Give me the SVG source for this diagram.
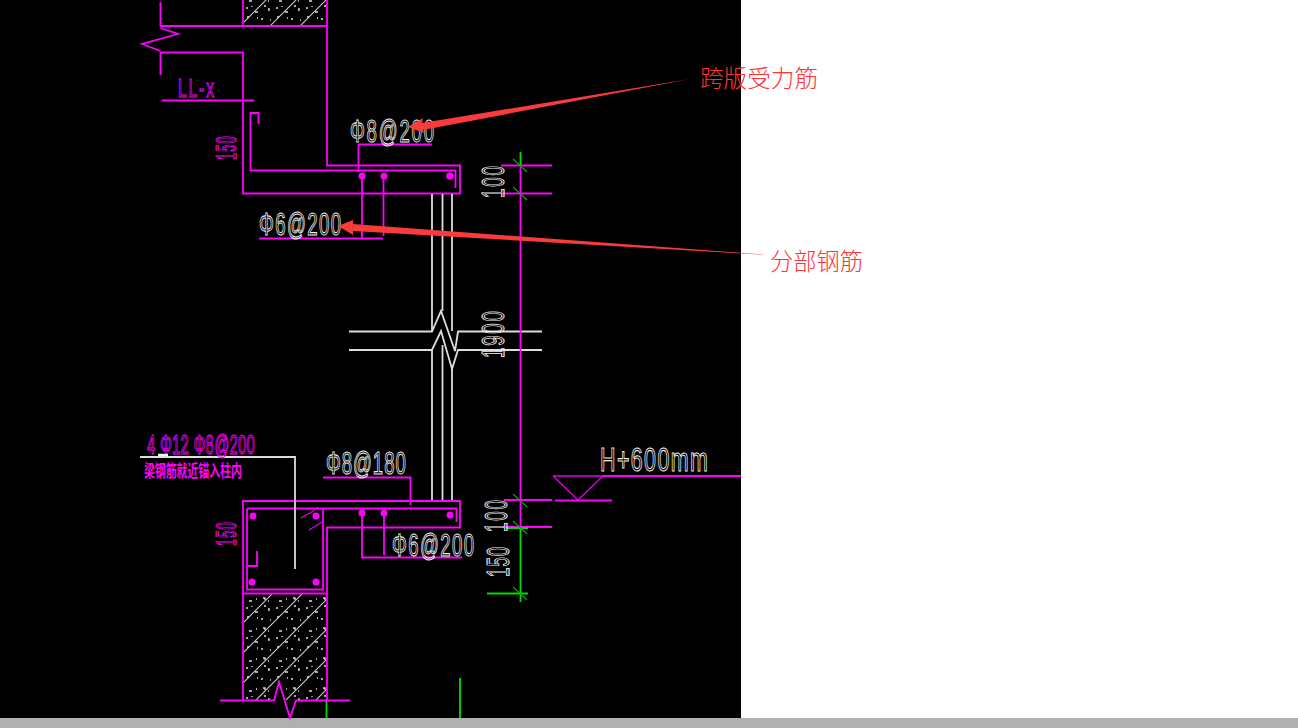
<svg xmlns="http://www.w3.org/2000/svg" width="1298" height="728" viewBox="0 0 1298 728">
<style>
.m{stroke:#f0f;stroke-width:1.8;fill:none}
.m1{stroke:#e000e0;stroke-width:1.3;fill:none}
.w{stroke:#ddd;stroke-width:1.8;fill:none}
.g{stroke:#0d0;stroke-width:1.8;fill:none}
.t{stroke:#0a0;stroke-width:1.2;fill:none}
.d{fill:#f0f}
.cw{font-family:"Liberation Sans",sans-serif;fill:none;stroke:#eee;stroke-width:1.05}
.cm{font-family:"Liberation Sans",sans-serif;fill:none;stroke:#f0f;stroke-width:1.05}
.zh{font-family:"Noto Sans CJK SC",sans-serif;fill:#f33;font-weight:300}
</style>
<defs>
<pattern id="hat" width="30" height="30" patternUnits="userSpaceOnUse" x="243" y="593">
<path d="M-5 5L5 -5M-5 35L35 -5M25 35L35 25" stroke="#ccc" stroke-width="1.1" fill="none"/>
<path d="M6 8h3M20 5h2v2M12 19h3M25 16h1v2M4 24h2M18 26h2M27 27h1M13 6h1M3 15h2M21 13h2M9 13v1M14 25h1M25 8h1" stroke="#ddd" stroke-width="1.4" fill="none"/>
</pattern>
</defs>
<rect width="1298" height="728" fill="#fff"/>
<rect width="741" height="718" fill="#000"/>
<rect y="718" width="1298" height="10" fill="#b0b0b0"/>

<g id="upper-wall-hatch"><rect x="243" y="0" width="84" height="26" fill="url(#hat)"/></g>
<g id="lower-wall-hatch"><rect x="243" y="593" width="84" height="107" fill="url(#hat)"/><path d="M274 700L279 682L290 718L296 700L310 700V718H270V700Z" fill="#000"/></g>

<g id="upper-structure">
<path class="m" d="M160.500 2V26H243V0M243 26H327M327 0V165.500H460V193.500H243V52.500H160.500V75"/>
<path class="m" d="M160.500 28L178 34L142 44L160.500 51"/>
<path class="m" d="M162 100.500H254"/>
<path class="m" d="M258.500 124V113H250.500V170.500H455.500V188"/>
<path class="m" d="M358.500 172V144.500H432"/>
<path class="m" d="M362 176V238M383.500 176V236M259 238.500H383"/>
<circle class="d" cx="362" cy="176" r="3.500"/><circle class="d" cx="384" cy="176" r="3.500"/><circle class="d" cx="450" cy="176" r="3.800"/>
</g>

<g id="walls">
<path class="w" d="M432 194V331.500M442.500 194V311M452 194V331M432 350V500M442.500 345V500M452 369V500"/>
<path class="w" d="M349 331.500H432L441 311L455 351L458 331.500H542"/>
<path class="w" d="M349 350H432L441 331L452 369L458 350H542"/>
</g>

<g id="lower-structure">
<path class="m" d="M327 700V527.500H460V501H243V700"/>
<path class="m" d="M247 508.500H456.500V522M323 508.500V589.500H247V508.500M243 593.500H327"/>
<path class="m" d="M257 551V566H248"/>
<path class="m1" d="M301 518L315 510M309 530L322 522"/>
<path class="m" d="M323 477.500H410.500V505"/>
<path class="m" d="M362 513V557.500H462M384 513V555"/>
<path class="w" d="M140 457H295V569"/>
<path class="m" d="M220 700.500H274L279 682L290 718L296 700.500H350"/>
<circle class="d" cx="253" cy="516" r="3.500"/><circle class="d" cx="316" cy="516" r="3.500"/><circle class="d" cx="252" cy="582" r="3.500"/><circle class="d" cx="316" cy="582" r="3.500"/><circle class="d" cx="362" cy="513" r="3.500"/><circle class="d" cx="384" cy="513" r="3.500"/><circle class="d" cx="450" cy="515" r="3.500"/>
<path class="g" d="M326.500 701V718M460 678V718"/>
</g>

<g id="dimensions">
<path class="m" d="M520.500 165V527M501 165.500H552M501 193.500H552M504 500H552M503 527H552"/>
<path class="g" d="M520.500 152V165M520.500 528V602M506 528H528M487 593.500H528"/>
<path class="t" d="M513 159L527 172M513 187L527 200M513 494L527 507M513 521L527 534M513 587L527 600"/>
<path class="m" d="M603 476H741"/>
<path class="m1" d="M553 476H603M553 476L578 500L603 476"/>
<path class="m" d="M555 500.500H612"/>
</g>

<g id="labels">
<text class="cw" transform="translate(350 142) scale(.6 1)" font-size="31" textLength="140">Φ8@200</text>
<text class="cw" transform="translate(259 235) scale(.6 1)" font-size="31" textLength="137">Φ6@200</text>
<text class="cw" transform="translate(326 474) scale(.6 1)" font-size="31" textLength="133">Φ8@180</text>
<text class="cw" transform="translate(392 556) scale(.6 1)" font-size="31" textLength="137">Φ6@200</text>
<text class="cw" transform="translate(600 471) scale(.65 1)" font-size="33" textLength="166">H+600mm</text>
<text class="cm" transform="translate(147 454) scale(.55 1)" font-size="27" textLength="196">4 Φ12 Φ8@200</text>
<text class="cm" transform="translate(178 97) scale(.6 1)" font-size="26" textLength="60">LL-x</text>
<text class="cm" transform="translate(236 160) rotate(-90) scale(.45 1)" font-size="29" textLength="53">150</text>
<text class="cm" transform="translate(236 546) rotate(-90) scale(.45 1)" font-size="29" textLength="53">150</text>
<text class="cw" transform="translate(504 198) rotate(-90) scale(.55 1)" font-size="31" textLength="58">100</text>
<text class="cw" transform="translate(504 358) rotate(-90) scale(.6 1)" font-size="31" textLength="78">1900</text>
<text class="cw" transform="translate(507 532) rotate(-90) scale(.55 1)" font-size="31" textLength="58">100</text>
<text class="cw" transform="translate(509 577) rotate(-90) scale(.55 1)" font-size="31" textLength="55">150</text>
<text transform="translate(144 477) scale(1 1.5)" font-family="'Noto Sans CJK SC',sans-serif" font-size="11" font-weight="700" fill="#f0f" textLength="98">梁钢筋就近锚入柱内</text>
<path d="M158 455H168" stroke="#eee" stroke-width="2.500"/>
</g>

<g id="annotation-spanning">
<polygon points="408,127 423,118 422,123 690,79 423,130 424,133" fill="#f93b3b"/>
<text class="zh" x="700" y="87" font-size="23.500" textLength="118" lengthAdjust="spacingAndGlyphs">跨版受力筋</text>
</g>
<g id="annotation-distribution">
<polygon points="338,226 353,220 353,224 770,255 353,231 353,235" fill="#f93b3b"/>
<text class="zh" x="770" y="270" font-size="23.500" textLength="93" lengthAdjust="spacingAndGlyphs">分部钢筋</text>
</g>
</svg>
